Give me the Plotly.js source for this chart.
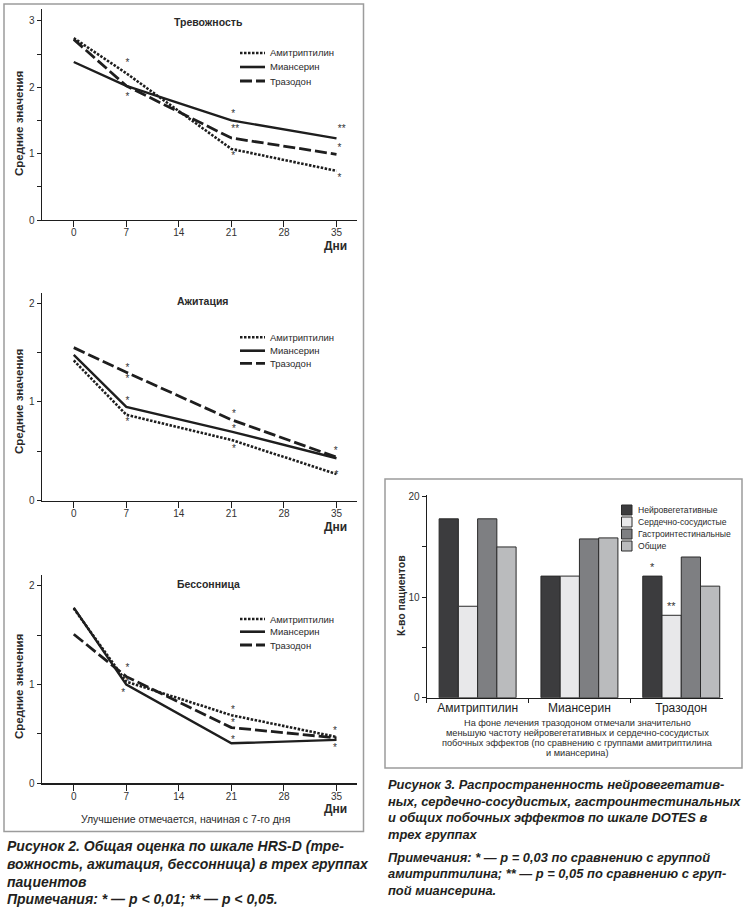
<!DOCTYPE html>
<html><head><meta charset="utf-8">
<script src="https://cdn.plot.ly/plotly-3.0.1.min.js"></script>
<style>html,body{margin:0;padding:0;background:#fff;}#chart{width:746px;height:911px;}</style>
</head><body><div id="chart"></div>
<script>
// ---------- data ----------
const days = [0, 7, 21, 35];
const dayTicks = [0, 7, 14, 21, 28, 35];
const drugs = ['Амитриптилин', 'Миансерин', 'Тразодон'];

// Тревожность
const anxAmi = [2.74, 2.21, 1.07, 0.74];
const anxMia = [2.38, 2.02, 1.50, 1.23];
const anxTra = [2.72, 2.02, 1.235, 0.99];
const anxStarX = [7.16, 7.16, 21.24, 21.5, 21.24, 35.7, 35.4, 35.4];
const anxStarY = [2.36, 1.85, 1.59, 1.36, 0.95, 1.36, 1.08, 0.62];
const anxStarT = ['*', '*', '*', '**', '*', '**', '*', '*'];

// Ажитация
const agiAmi = [1.42, 0.87, 0.615, 0.27];
const agiMia = [1.476, 0.95, 0.70, 0.43];
const agiTra = [1.55, 1.30, 0.82, 0.44];
const agiStarX = [7.16, 7.16, 7.16, 7.16, 21.33, 21.33, 21.33, 34.9, 35.0];
const agiStarY = [1.34, 1.23, 1.0, 0.79, 0.87, 0.72, 0.52, 0.50, 0.26];
const agiStarT = ['*', '*', '*', '*', '*', '*', '*', '*', '*'];

// Бессонница
const insAmi = [1.77, 1.03, 0.69, 0.47];
const insMia = [1.78, 1.00, 0.405, 0.44];
const insTra = [1.51, 1.08, 0.565, 0.46];
const insStarX = [7.16, 7.2, 6.6, 21.2, 21.2, 21.2, 34.8, 34.8];
const insStarY = [1.16, 1.02, 0.91, 0.74, 0.61, 0.435, 0.525, 0.35];
const insStarT = ['*', '*', '*', '*', '*', '*', '*', '*'];

// Побочные эффекты (DOTES)
const sideCats = ['Нейровегетативные', 'Сердечно-сосудистые', 'Гастроинтестинальные', 'Общие'];
const neuro = [17.8, 12.1, 12.1];
const cardio = [9.1, 12.1, 8.2];
const gastro = [17.8, 15.8, 14.0];
const general = [15.0, 15.9, 11.1];
const neuroStars = ['', '', '*'];
const cardioStars = ['', '', '**'];

// ---------- styles ----------
const W = 746, H = 911;
const FF = 'Liberation Sans, Arial, sans-serif';
const INK = '#1e1e1e';
const TXT = '#2a2a2a';
const px = v => v / W;
const py = v => 1 - v / H;
const dashAmi = '2.5px,1.5px';
const dashTra = '12px,4px';
const barColors = ['#3c3c3e', '#e8e8ea', '#7e7f82', '#babbbd'];

function lineTrace(x, y, dash, ax, w) {
  return {type: 'scatter', mode: 'lines', x: x, y: y, xaxis: ax[0], yaxis: ax[1],
    line: {color: INK, width: w, dash: dash}, showlegend: false, hoverinfo: 'skip'};
}
function starTrace(x, y, t, ax) {
  return {type: 'scatter', mode: 'text', x: x, y: y, text: t, xaxis: ax[0], yaxis: ax[1],
    textposition: 'middle center', textfont: {family: FF, size: 10, color: '#333333'},
    showlegend: false, hoverinfo: 'skip', cliponaxis: false};
}

const traces = [];
const panels = [
  {ax: ['x', 'y'], a: anxAmi, m: anxMia, t: anxTra, sx: anxStarX, sy: anxStarY, st: anxStarT},
  {ax: ['x2', 'y2'], a: agiAmi, m: agiMia, t: agiTra, sx: agiStarX, sy: agiStarY, st: agiStarT},
  {ax: ['x3', 'y3'], a: insAmi, m: insMia, t: insTra, sx: insStarX, sy: insStarY, st: insStarT}
];
panels.forEach(p => {
  traces.push(lineTrace(days, p.a, dashAmi, p.ax, 2.6));
  traces.push(lineTrace(days, p.t, dashTra, p.ax, 2.8));
  traces.push(lineTrace(days, p.m, 'solid', p.ax, 2.4));
  traces.push(starTrace(p.sx, p.sy, p.st, p.ax));
});

const barSeries = [neuro, cardio, gastro, general];
const barTexts = [neuroStars, cardioStars, null, null];
barSeries.forEach((vals, i) => {
  const tr = {type: 'bar', x: drugs, y: vals, name: sideCats[i], xaxis: 'x4', yaxis: 'y4',
    marker: {color: barColors[i], line: {color: '#2a2a2a', width: 1}},
    showlegend: false, hoverinfo: 'skip', cliponaxis: false};
  if (barTexts[i]) {
    tr.text = barTexts[i];
    tr.textposition = 'outside';
    tr.textfont = {family: FF, size: 11, color: '#333333'};
  }
  traces.push(tr);
});

// ---------- axes ----------
function xLine(dom, anchor) {
  return {domain: dom, anchor: anchor, range: [-4.27, 37.73], tickmode: 'array', tickvals: dayTicks,
    ticks: 'outside', ticklen: 6, tickwidth: 1, tickcolor: INK, showline: true, linecolor: INK,
    linewidth: 1.2, showgrid: false, zeroline: false, fixedrange: true, ticklabelstandoff: -3,
    tickfont: {family: FF, size: 10, color: '#333'}};
}
function yLine(dom, anchor, top) {
  return {domain: dom, anchor: anchor, range: [0, top], tickmode: 'linear', tick0: 0, dtick: 1,
    ticks: 'outside', ticklen: 4, tickwidth: 1, tickcolor: INK, showline: true, linecolor: INK,
    linewidth: 1.2, showgrid: false, zeroline: false, fixedrange: true,
    minor: {dtick: 0.5, tick0: 0, ticks: 'outside', ticklen: 4, tickwidth: 1, tickcolor: INK, showgrid: false},
    tickfont: {family: FF, size: 10, color: '#333'}};
}
const xdom = [px(41.7), px(357)];

const layout = {
  width: W, height: H, margin: {l: 0, r: 0, t: 0, b: 0},
  paper_bgcolor: '#fff', plot_bgcolor: 'rgba(0,0,0,0)', showlegend: false,
  font: {family: FF, color: TXT},
  xaxis: xLine(xdom, 'y'),
  yaxis: yLine([py(220), py(9)], 'x', 3.178),
  xaxis2: xLine(xdom, 'y2'),
  yaxis2: yLine([py(500.7), py(293.3)], 'x2', 2.10),
  xaxis3: xLine(xdom, 'y3'),
  yaxis3: yLine([py(783.3), py(575)], 'x3', 2.11),
  xaxis4: {domain: [px(426.7), px(723)], anchor: 'y4', type: 'category', range: [-0.5, 2.41],
    ticks: 'outside', tickson: 'boundaries', ticklen: 4, tickwidth: 1, tickcolor: INK,
    showline: true, linecolor: INK, linewidth: 1.2, showgrid: false, zeroline: false, fixedrange: true,
    ticklabelstandoff: -1,
    tickfont: {family: FF, size: 12, color: '#222'}},
  yaxis4: {domain: [py(697.7), py(495)], anchor: 'x4', range: [0, 20.17], tickmode: 'linear', tick0: 0, dtick: 10,
    ticks: 'outside', ticklen: 4, tickwidth: 1, tickcolor: INK, showline: true, linecolor: INK,
    linewidth: 1.2, showgrid: false, zeroline: false, fixedrange: true,
    minor: {dtick: 5, tick0: 0, ticks: 'outside', ticklen: 4, tickwidth: 1, tickcolor: INK, showgrid: false},
    tickfont: {family: FF, size: 10, color: '#333'}},
  barmode: 'group', bargap: 0.244, bargroupgap: 0,
  shapes: [], annotations: []
};

// frames
layout.shapes.push({type: 'rect', xref: 'paper', yref: 'paper', x0: px(4), x1: px(363.5), y0: py(4), y1: py(831.5),
  line: {color: '#9c9c9c', width: 1.5}, fillcolor: 'rgba(0,0,0,0)', layer: 'below'});
layout.shapes.push({type: 'rect', xref: 'paper', yref: 'paper', x0: px(385), x1: px(742), y0: py(479), y1: py(768),
  line: {color: '#9c9c9c', width: 1.5}, fillcolor: 'rgba(0,0,0,0)', layer: 'below'});

function ann(text, x, y, size, opts) {
  opts = opts || {};
  return {xref: 'paper', yref: 'paper', x: px(x), y: py(y), text: text, showarrow: false,
    xanchor: opts.xa || 'center', yanchor: opts.ya || 'middle', textangle: opts.angle || 0,
    align: opts.align || 'center',
    font: {family: FF, size: size, color: opts.color || TXT}};
}

// line chart decorations
const lc = [
  {title: 'Тревожность', tx: 208, ty: 22, ytc: 124, dni: 246, leg: [53, 67, 81]},
  {title: 'Ажитация', tx: 203, ty: 301, ytc: 402, dni: 527, leg: [337.3, 350.7, 363.3]},
  {title: 'Бессонница', tx: 208, ty: 584, ytc: 687, dni: 809, leg: [619, 631.7, 645]}
];
const legDash = [dashAmi, 'solid', dashTra];
const legW = [2.6, 2.6, 2.8];
lc.forEach(c => {
  layout.annotations.push(ann('<b>' + c.title + '</b>', c.tx, c.ty, 10.5));
  layout.annotations.push(ann('<b>Средние значения</b>', 19, c.ytc, 11.5, {angle: -90}));
  layout.annotations.push(ann('<b>Дни</b>', 335, c.dni, 12));
  c.leg.forEach((yy, i) => {
    layout.shapes.push({type: 'line', xref: 'paper', yref: 'paper', x0: px(240), x1: px(265), y0: py(yy), y1: py(yy),
      line: {color: INK, width: legW[i], dash: legDash[i]}});
    layout.annotations.push(ann(drugs[i], 268, yy, 9.5, {xa: 'left'}));
  });
});
layout.annotations.push(ann('Улучшение отмечается, начиная с 7-го дня', 185, 819, 10.5));

// bar chart decorations
layout.annotations.push(ann('<b>К-во пациентов</b>', 401, 596, 10.5, {angle: -90}));
const barLegY = [510, 522, 534, 546];
barLegY.forEach((yy, i) => {
  layout.shapes.push({type: 'rect', xref: 'paper', yref: 'paper', x0: px(621.5), x1: px(632), y0: py(yy - 5), y1: py(yy + 5),
    fillcolor: barColors[i], line: {color: '#2a2a2a', width: 1}});
  layout.annotations.push(ann(sideCats[i], 636, yy, 8.6, {xa: 'left'}));
});
const noteLines = ['На фоне лечения тразодоном отмечали значительно',
  'меньшую частоту нейровегетативных и сердечно-сосудистых',
  'побочных эффектов (по сравнению с группами амитриптилина',
  'и миансерина)'];
noteLines.forEach((t, i) => layout.annotations.push(ann(t, 577, 723.3 + i * 10, 9.2)));

// captions
const cap2 = ['Рисунок 2. Общая оценка по шкале HRS-D (тре-',
  'вожность, ажитация, бессонница) в трех группах',
  'пациентов',
  'Примечания: * — p < 0,01; ** — p < 0,05.'];
const cap2Y = [846, 864, 882, 899];
cap2.forEach((t, i) => layout.annotations.push(ann('<b><i>' + t.replace(/</g, '&lt;') + '</i></b>', 5, cap2Y[i], 14, {xa: 'left', color: '#231f20'})));
const cap3 = ['Рисунок 3. Распространенность нейровегетатив-',
  'ных, сердечно-сосудистых, гастроинтестинальных',
  'и общих побочных эффектов по шкале DOTES в',
  'трех группах',
  'Примечания: * — p = 0,03 по сравнению с группой',
  'амитриптилина; ** — p = 0,05 по сравнению с груп-',
  'пой миансерина.'];
const cap3Y = [784, 801, 817.5, 834, 857, 873.5, 890];
cap3.forEach((t, i) => layout.annotations.push(ann('<b><i>' + t + '</i></b>', 386, cap3Y[i], 12.9, {xa: 'left', color: '#231f20'})));

Plotly.newPlot('chart', traces, layout, {staticPlot: true, displayModeBar: false});
</script>
</body></html>
